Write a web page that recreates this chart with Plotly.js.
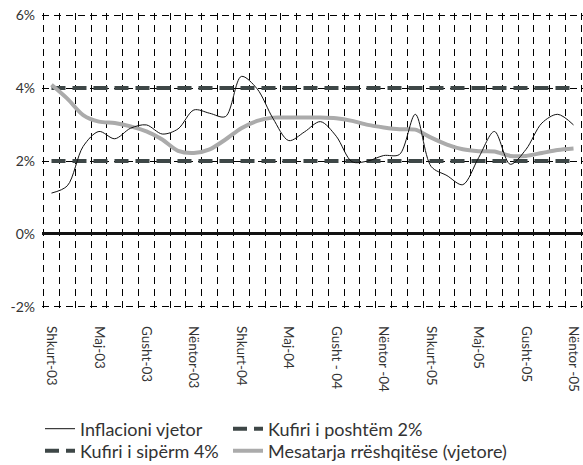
<!DOCTYPE html>
<html>
<head>
<meta charset="utf-8">
<script src="https://cdn.plot.ly/plotly-3.0.1.min.js"></script>
<style>html,body{margin:0;padding:0;background:#fff;}#chart{width:583px;height:465px;}</style>
</head>
<body>
<div id="chart"></div>
<script>
// Months Feb-2003 .. Nov-2005 (34 monthly observations)
const months = ["Shkurt-03","Mars-03","Prill-03","Maj-03","Qershor-03","Korrik-03","Gusht-03","Shtator-03","Tetor-03","Nëntor-03","Dhjetor-03","Janar-04",
  "Shkurt-04","Mars-04","Prill-04","Maj-04","Qershor-04","Korrik-04","Gusht-04","Shtator-04","Tetor-04","Nëntor-04","Dhjetor-04","Janar-05",
  "Shkurt-05","Mars-05","Prill-05","Maj-05","Qershor-05","Korrik-05","Gusht-05","Shtator-05","Tetor-05","Nëntor-05"];
const tickPositions = [0,3,6,9,12,15,18,21,24,27,30,33];
const tickLabels = ["Shkurt-03","Maj-03","Gusht-03","Nëntor-03","Shkurt-04","Maj-04","Gusht - 04","Nëntor -04","Shkurt-05","Maj-05","Gusht-05","Nëntor -05"];
const inflation = [1.12,1.32,2.40,2.81,2.61,2.90,2.99,2.74,2.88,3.40,3.31,3.22,4.32,3.98,3.17,2.56,2.80,3.08,2.68,1.98,2.00,2.15,2.18,3.28,1.85,1.60,1.35,2.09,2.81,1.91,2.32,3.04,3.28,2.99];
const movingAvg = [4.09,3.71,3.26,3.08,3.04,2.95,2.81,2.59,2.28,2.22,2.32,2.59,2.90,3.10,3.19,3.19,3.19,3.19,3.17,3.10,2.99,2.92,2.87,2.86,2.64,2.45,2.32,2.27,2.26,2.14,2.14,2.22,2.30,2.34];
const lowerBound = [2,2,2,2,2,2,2,2,2,2,2,2,2,2,2,2,2,2,2,2,2,2,2,2,2,2,2,2,2,2,2,2,2,2];
const upperBound = [4,4,4,4,4,4,4,4,4,4,4,4,4,4,4,4,4,4,4,4,4,4,4,4,4,4,4,4,4,4,4,4,4,4];
const yTicks = [-2,0,2,4,6];
const yTickLabels = ["-2%","0%","2%","4%","6%"];

const xs = months.map((m,i)=>i);
const FONT = "Lato, 'Open Sans', sans-serif";
const boundStyle = {color:'#3e4747', width:4, dash:'14px,7px'};

const traces = [
  {x:xs, y:lowerBound, text:months, name:'Kufiri i poshtëm 2%', mode:'lines', line:boundStyle, legend:'legend2'},
  {x:xs, y:upperBound, text:months, name:'Kufiri i sipërm 4%', mode:'lines', line:boundStyle, legend:'legend3'},
  {x:xs, y:movingAvg, text:months, name:'Mesatarja rrëshqitëse (vjetore)', mode:'lines', line:{color:'#ababab', width:4, shape:'spline', smoothing:0.8}, legend:'legend4'},
  {x:xs, y:inflation, text:months, name:'Inflacioni vjetor', mode:'lines', line:{color:'#111', width:1, shape:'spline', smoothing:0.9}, legend:'legend'}
];

const legendCommon = {orientation:'v', xref:'container', yref:'container', xanchor:'left', yanchor:'middle',
  font:{family:FONT, size:18, color:'#333'}, bgcolor:'rgba(0,0,0,0)', itemclick:false};
const col1 = 40/583, col2 = 228/583, row1 = 1 - 429/465, row2 = 1 - 451/465;

const layout = {
  width:583, height:465,
  margin:{l:42, r:0, t:13, b:156, autoexpand:false},
  paper_bgcolor:'#fff', plot_bgcolor:'#fff',
  font:{family:FONT, size:13, color:'#333'},
  showlegend:true,
  xaxis:{range:[-0.6,33.6], tickmode:'array', tickvals:tickPositions, ticktext:tickLabels,
    tickangle:90, showgrid:false, zeroline:false, showline:false, ticks:'', automargin:false,
    ticklabelstandoff:16, tickfont:{family:FONT, size:13.5, color:'#333'},
    minor:{tick0:-0.5, dtick:1, showgrid:true, gridcolor:'#000', gridwidth:1, griddash:'7px,5px', ticks:''}},
  yaxis:{range:[-2.06,6.06], tickmode:'array', tickvals:yTicks, ticktext:yTickLabels, automargin:false,
    showgrid:true, gridcolor:'#000', gridwidth:1, griddash:'7px,5px',
    zeroline:true, zerolinecolor:'#111', zerolinewidth:3, showline:false, ticks:'',
    ticklabelstandoff:6, tickfont:{family:FONT, size:14, color:'#333'}},
  legend:Object.assign({x:col1, y:row1}, legendCommon),
  legend2:Object.assign({x:col2, y:row1}, legendCommon),
  legend3:Object.assign({x:col1, y:row2}, legendCommon),
  legend4:Object.assign({x:col2, y:row2}, legendCommon)
};

Plotly.newPlot('chart', traces, layout, {displayModeBar:false, staticPlot:true});
</script>
</body>
</html>
